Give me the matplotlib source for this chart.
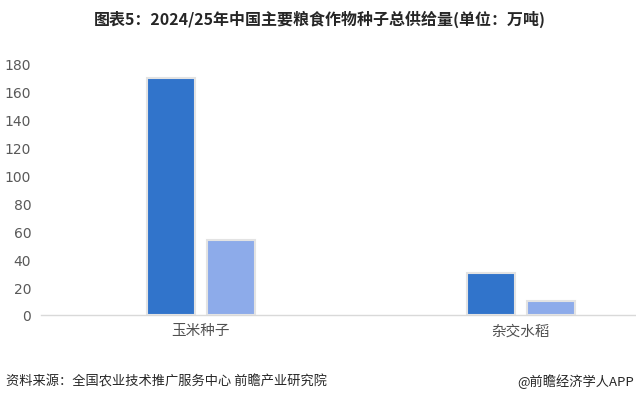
import matplotlib
matplotlib.use("Agg")
import matplotlib.pyplot as plt
import numpy as np

plt.rcParams['font.family'] = ['Noto Sans CJK SC', 'DejaVu Sans']

categories = ["玉米种子", "杂交水稻"]
series_a = [170, 30]
series_b = [54, 10]
yticks = [0, 20, 40, 60, 80, 100, 120, 140, 160, 180]

title = "图表5：2024/25年中国主要粮食作物种子总供给量(单位：万吨)"
source = "资料来源：全国农业技术推广服务中心 前瞻产业研究院"
brand = "@前瞻经济学人APP"

W, H = 636, 402
fig = plt.figure(figsize=(W / 100, H / 100), dpi=100)
ax = fig.add_axes([41 / W, (H - 316) / H, (W - 41) / W, (316 - 65) / H])

x = np.arange(len(categories))
bw = 0.15
off = 0.094
ax.bar(x - off, series_a, width=bw, color="#3174CB", edgecolor="#E3E3E3", linewidth=1.5, zorder=3)
ax.bar(x + off, series_b, width=bw, color="#8DABEA", edgecolor="#E3E3E3", linewidth=1.5, zorder=3)

ax.set_xlim(-0.5, 1.36)
ax.set_ylim(0, 180)
ax.set_yticks(yticks)
ax.set_yticklabels([str(v) for v in yticks], fontsize=10, color="#595959", family="DejaVu Sans")
ax.set_xticks(x)
ax.set_xticklabels(categories, fontsize=10.5, color="#505050")
ax.tick_params(axis="both", length=0)
ax.tick_params(axis="y", pad=7)
ax.tick_params(axis="x", pad=6)
for s in ["top", "right", "left"]:
    ax.spines[s].set_visible(False)
ax.spines["bottom"].set_color("#D9D9D9")
ax.spines["bottom"].set_linewidth(1.0)
ax.spines["bottom"].set_clip_on(False)

fig.text(320 / W, 1 - 19 / H, title, ha="center", va="center", fontsize=11.5,
         fontweight="bold", color="#262626")
fig.text(6 / W, 1 - 382 / H, source, ha="left", va="center", fontsize=9.5, color="#262626")
fig.text(634 / W, 1 - 382 / H, brand, ha="right", va="center", fontsize=9.5, color="#262626")

fig.savefig("out.png", dpi=100)
